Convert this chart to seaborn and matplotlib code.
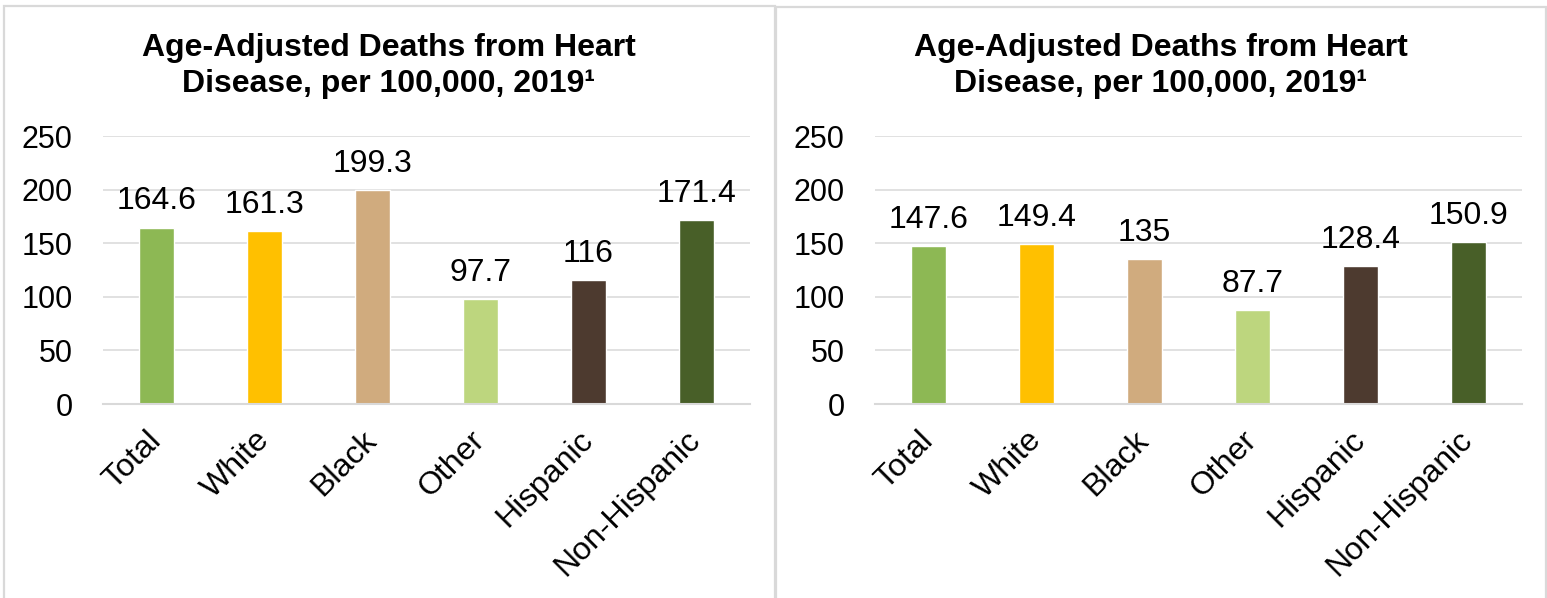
import matplotlib
matplotlib.use('Agg')
import matplotlib.pyplot as plt
from matplotlib.patches import Rectangle
import pandas as pd
import seaborn as sns

categories = ['Total', 'White', 'Black', 'Other', 'Hispanic', 'Non-Hispanic']
left_values = [164.6, 161.3, 199.3, 97.7, 116, 171.4]
right_values = [147.6, 149.4, 135, 87.7, 128.4, 150.9]
bar_colors = ['#8DB854', '#FFC000', '#D0AB7E', '#BDD67E', '#4D3A2F', '#485F28']
title_text = 'Age-Adjusted Deaths from Heart\nDisease, per 100,000, 2019\u00b9'
y_ticks = [0, 50, 100, 150, 200, 250]

sns.set_style('white')
plt.rcParams['font.family'] = ['Liberation Sans', 'DejaVu Sans']
plt.rcParams['text.color'] = 'black'
plt.rcParams['xtick.color'] = 'black'
plt.rcParams['ytick.color'] = 'black'

W, H = 1547, 598
fig = plt.figure(figsize=(W / 100, H / 100), dpi=100)

def px_box(x0, x1, ytop, ybot):
    return [x0 / W, 1 - ybot / H, (x1 - x0) / W, (ybot - ytop) / H]

def panel(values, ax_box, frame, title_x):
    # panel border
    fx0, fx1, fy0 = frame
    fig.add_artist(Rectangle((fx0 / W, -0.1), (fx1 - fx0) / W, 1.1 - fy0 / H,
                             transform=fig.transFigure, fill=False,
                             edgecolor='#D9D9D9', linewidth=1.6))
    ax = fig.add_axes(px_box(*ax_box))
    df = pd.DataFrame({'group': categories, 'rate': values})
    sns.barplot(data=df, x='group', y='rate', hue='group', palette=bar_colors,
                order=categories, hue_order=categories, width=0.325,
                legend=False, ax=ax, saturation=1)
    for c, v in zip(ax.containers, values):
        ax.bar_label(c, labels=['{:g}'.format(v)], padding=8, fontsize=23,
                     color='black')
    ax.set_ylim(0, 250)
    ax.set_yticks(y_ticks)
    ax.yaxis.grid(True, color='#D9D9D9', linewidth=1.1)
    ax.set_axisbelow(True)
    for s in ['top', 'left', 'right']:
        ax.spines[s].set_visible(False)
    ax.spines['bottom'].set_color('#D9D9D9')
    ax.spines['bottom'].set_linewidth(1.5)
    ax.tick_params(axis='y', length=0, pad=22, labelsize=22)
    ax.tick_params(axis='x', length=0, pad=23, labelsize=23)
    plt.setp(ax.get_xticklabels(), rotation=45, ha='right', va='center',
             rotation_mode='anchor')
    ax.set_xlabel('')
    ax.set_ylabel('')
    fig.text(title_x / W, 1 - 33 / H, title_text, ha='center', va='top',
             fontsize=23, fontweight='bold', linespacing=1.27)
    return ax

panel(left_values, (103, 750, 136, 404), (4, 775, 6), 389)
panel(right_values, (875, 1522, 136, 404), (776, 1546, 7), 1161)

fig.savefig('out.png', dpi=100)
